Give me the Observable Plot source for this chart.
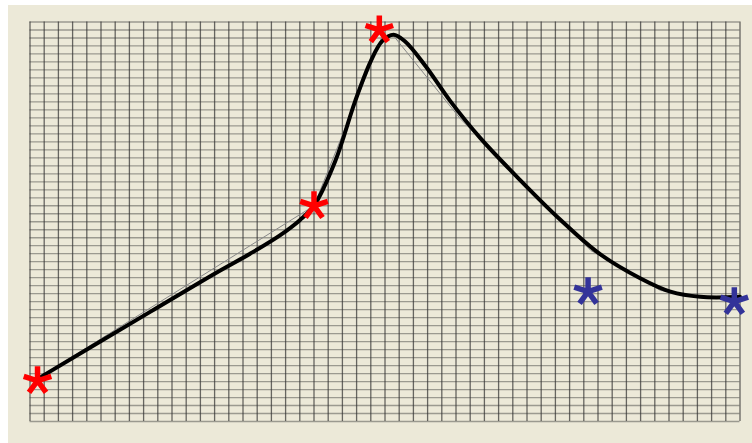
<!DOCTYPE html>
<html>
<head>
<meta charset="utf-8">
<script src="https://cdn.jsdelivr.net/npm/d3@7"></script>
<script src="https://cdn.jsdelivr.net/npm/@observablehq/plot@0.6"></script>
<style>
  html, body { margin: 0; padding: 0; background: #ffffff; }
  #wrap { padding-left: 8px; padding-top: 5px; }
  #wrap svg { display: block; }
</style>
</head>
<body>
<div id="wrap"></div>
<script>
// Smooth (black) curve samples, in grid units
const curveX = [0.6, 8.49, 13.0, 15.5, 17.6, 19.0, 20.0, 21.5, 22.9, 24.0, 24.8, 25.6, 26.4, 27.85, 29.6, 31.7, 34.5, 37.35, 40.1, 43.0, 45.1, 47.2, 50];
const curveY = [5.4, 13.75, 18.5, 21.0, 23.3, 25.2, 27.0, 32.6, 40.1, 45.1, 47.6, 48.4, 47.6, 44.5, 40.1, 35.5, 30.25, 25.25, 21.0, 17.9, 16.25, 15.6, 15.6];

// Thin gray polyline knots
const polyX = [0.53, 20.0, 24.75, 25.5, 30.3, 39.5, 44.4, 47.2, 50];
const polyY = [5.4, 27.0, 48.0, 48.5, 37.9, 21.4, 16.4, 15.6, 15.6];

// Red asterisks
const redX = [0.53, 20.0, 24.6];
const redY = [5.1, 27.0, 49.0];

// Blue asterisks
const blueX = [39.3, 49.6];
const blueY = [16.25, 15.0];

const curve = curveX.map((x, i) => ({x, y: curveY[i]}));
const poly = polyX.map((x, i) => ({x, y: polyY[i]}));
const red = redX.map((x, i) => ({x, y: redY[i]}));
const blue = blueX.map((x, i) => ({x, y: blueY[i]}));

const asterisk5 = {
  draw(context, size) {
    const r = Math.sqrt(size / Math.PI);
    for (let k = 0; k < 5; k++) {
      const a = -Math.PI / 2 + k * 2 * Math.PI / 5;
      context.moveTo(0, 0);
      context.lineTo(r * Math.cos(a), r * Math.sin(a));
    }
  }
};

const chart = Plot.plot({
  width: 744,
  height: 438,
  marginLeft: 21.5,
  marginRight: 12.5,
  marginTop: 16.5,
  marginBottom: 22,
  style: { background: "#ece9d8", overflow: "visible" },
  x: { domain: [0, 50], axis: null },
  y: { domain: [0, 50], axis: null },
  marks: [
    Plot.gridY({ ticks: 50, stroke: "#3a3a3a", strokeOpacity: 0.45, strokeWidth: 1.3 }),
    Plot.gridX({ ticks: 50, stroke: "#333", strokeOpacity: 0.72, strokeWidth: 1.3 }),
    Plot.line(poly, { x: "x", y: "y", stroke: "#888", strokeWidth: 1 }),
    Plot.line(curve, { x: "x", y: "y", stroke: "#000", strokeWidth: 4, curve: "catmull-rom" }),
    Plot.dot(red, { x: "x", y: "y", symbol: asterisk5, r: 14.5, stroke: "#ff0000", strokeWidth: 5.5, fill: "none" }),
    Plot.dot(blue, { x: "x", y: "y", symbol: asterisk5, r: 14.5, stroke: "#333399", strokeWidth: 5.5, fill: "none" })
  ]
});
document.getElementById("wrap").appendChild(chart);
</script>
</body>
</html>
